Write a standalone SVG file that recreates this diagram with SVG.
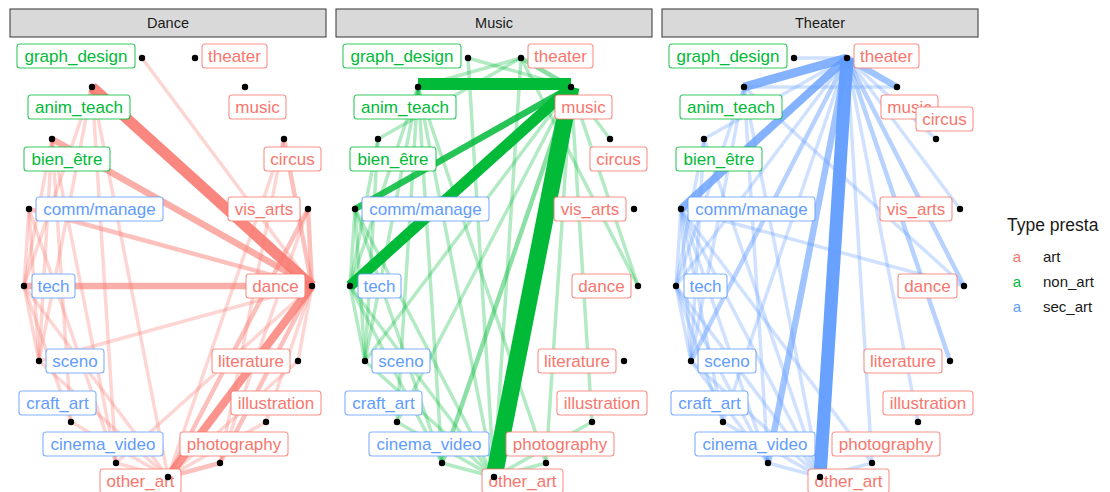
<svg xmlns="http://www.w3.org/2000/svg" width="1110" height="492" viewBox="0 0 1110 492">
<style>
text{font-family:"Liberation Sans",Arial,sans-serif}
.strip rect{fill:#D9D9D9;stroke:#333;stroke-width:1}
.strip text{font-size:14.5px;fill:#1A1A1A;text-anchor:middle}
.ed line{stroke-linecap:butt;fill:none}
.de line{stroke:#F8766D}.me line{stroke:#00BA38}.te line{stroke:#619CFF}
.w1{stroke-width:3.5;stroke-opacity:.3}
.w2{stroke-width:4.5;stroke-opacity:.45}
.w3{stroke-width:6.5;stroke-opacity:.6}
.w4{stroke-width:8;stroke-opacity:.78}
.w5{stroke-width:11;stroke-opacity:.88}
.w6{stroke-width:14;stroke-opacity:1}
.node rect{fill:#fff;stroke-width:1.1}
.node text{font-size:17px;text-anchor:middle}
.node circle{fill:#000}
.art rect{stroke:#F8766D;stroke-opacity:.8}.art text{fill:#F8766D}
.non_art rect{stroke:#00BA38;stroke-opacity:.8}.non_art text{fill:#00BA38}
.sec_art rect{stroke:#619CFF;stroke-opacity:.8}.sec_art text{fill:#619CFF}
.leg{font-size:15px;fill:#1A1A1A}
</style>
<rect width="1110" height="492" fill="#fff"/>
<g id="strips">
<g class="strip" id="strip-dance"><rect x="10" y="9" width="316" height="28"/><text x="168" y="28">Dance</text></g>
<g class="strip" id="strip-music"><rect x="336" y="9" width="316" height="28"/><text x="494" y="28">Music</text></g>
<g class="strip" id="strip-theater"><rect x="662" y="9" width="316" height="28"/><text x="820" y="28">Theater</text></g>
</g>
<g id="connectors">
<g class="ed de" id="edges-dance">
<line class="w1" x1="142" y1="58" x2="312" y2="286"/>
<line class="w1" x1="92" y1="87" x2="24" y2="286"/>
<line class="w1" x1="92" y1="87" x2="39" y2="361"/>
<line class="w1" x1="92" y1="87" x2="168" y2="477"/>
<line class="w1" x1="92" y1="87" x2="116" y2="463"/>
<line class="w1" x1="52" y1="139" x2="24" y2="286"/>
<line class="w1" x1="52" y1="139" x2="39" y2="361"/>
<line class="w1" x1="52" y1="139" x2="71" y2="422"/>
<line class="w1" x1="52" y1="139" x2="116" y2="463"/>
<line class="w1" x1="29" y1="209" x2="24" y2="286"/>
<line class="w1" x1="29" y1="209" x2="39" y2="361"/>
<line class="w1" x1="29" y1="209" x2="116" y2="463"/>
<line class="w1" x1="24" y1="286" x2="39" y2="361"/>
<line class="w1" x1="24" y1="286" x2="71" y2="422"/>
<line class="w1" x1="24" y1="286" x2="168" y2="477"/>
<line class="w1" x1="39" y1="361" x2="168" y2="477"/>
<line class="w1" x1="71" y1="422" x2="168" y2="477"/>
<line class="w1" x1="284" y1="139" x2="220" y2="463"/>
<line class="w1" x1="284" y1="139" x2="168" y2="477"/>
<line class="w1" x1="308" y1="209" x2="220" y2="463"/>
<line class="w1" x1="298" y1="361" x2="168" y2="477"/>
<line class="w1" x1="266" y1="422" x2="168" y2="477"/>
<line class="w1" x1="116" y1="463" x2="312" y2="286"/>
<line class="w1" x1="39" y1="361" x2="312" y2="286"/>
<line class="w1" x1="298" y1="361" x2="312" y2="286"/>
<line class="w1" x1="266" y1="422" x2="312" y2="286"/>
<line class="w1" x1="116" y1="463" x2="168" y2="477"/>
<line class="w2" x1="29" y1="209" x2="312" y2="286"/>
<line class="w2" x1="308" y1="209" x2="312" y2="286"/>
<line class="w2" x1="284" y1="139" x2="312" y2="286"/>
<line class="w2" x1="220" y1="463" x2="168" y2="477"/>
<line class="w2" x1="220" y1="463" x2="312" y2="286"/>
<line class="w2" x1="308" y1="209" x2="168" y2="477"/>
<line class="w3" x1="52" y1="139" x2="312" y2="286"/>
<line class="w3" x1="24" y1="286" x2="312" y2="286"/>
<line class="w4" x1="312" y1="286" x2="168" y2="477"/>
<line class="w5" x1="92" y1="87" x2="312" y2="286"/>
</g>
<g class="ed me" id="edges-music" transform="translate(326,0)">
<line class="w1" x1="142" y1="58" x2="245" y2="87"/>
<line class="w1" x1="195" y1="58" x2="92" y2="87"/>
<line class="w1" x1="195" y1="58" x2="52" y2="139"/>
<line class="w1" x1="92" y1="87" x2="24" y2="286"/>
<line class="w1" x1="92" y1="87" x2="39" y2="361"/>
<line class="w1" x1="92" y1="87" x2="71" y2="422"/>
<line class="w1" x1="92" y1="87" x2="116" y2="463"/>
<line class="w1" x1="92" y1="87" x2="168" y2="477"/>
<line class="w1" x1="92" y1="87" x2="220" y2="463"/>
<line class="w1" x1="52" y1="139" x2="24" y2="286"/>
<line class="w1" x1="52" y1="139" x2="39" y2="361"/>
<line class="w1" x1="29" y1="209" x2="24" y2="286"/>
<line class="w1" x1="29" y1="209" x2="39" y2="361"/>
<line class="w1" x1="29" y1="209" x2="116" y2="463"/>
<line class="w1" x1="29" y1="209" x2="168" y2="477"/>
<line class="w1" x1="24" y1="286" x2="39" y2="361"/>
<line class="w1" x1="24" y1="286" x2="116" y2="463"/>
<line class="w1" x1="24" y1="286" x2="168" y2="477"/>
<line class="w1" x1="39" y1="361" x2="168" y2="477"/>
<line class="w1" x1="71" y1="422" x2="168" y2="477"/>
<line class="w1" x1="116" y1="463" x2="168" y2="477"/>
<line class="w1" x1="220" y1="463" x2="168" y2="477"/>
<line class="w1" x1="266" y1="422" x2="168" y2="477"/>
<line class="w1" x1="245" y1="87" x2="39" y2="361"/>
<line class="w1" x1="245" y1="87" x2="71" y2="422"/>
<line class="w1" x1="245" y1="87" x2="220" y2="463"/>
<line class="w1" x1="245" y1="87" x2="266" y2="422"/>
<line class="w1" x1="245" y1="87" x2="312" y2="286"/>
<line class="w1" x1="245" y1="87" x2="284" y2="139"/>
<line class="w1" x1="195" y1="58" x2="312" y2="286"/>
<line class="w1" x1="142" y1="58" x2="168" y2="477"/>
<line class="w1" x1="195" y1="58" x2="168" y2="477"/>
<line class="w2" x1="195" y1="58" x2="245" y2="87"/>
<line class="w2" x1="245" y1="87" x2="116" y2="463"/>
<line class="w3" x1="245" y1="87" x2="29" y2="209" style="stroke-opacity:.85"/>
<line class="w5" x1="245" y1="87" x2="24" y2="286" style="stroke-opacity:1"/>
<line class="w6" x1="92" y1="84" x2="245" y2="84" style="stroke-width:12"/>
<line class="w6" x1="245" y1="87" x2="168" y2="477" style="stroke-width:17"/>
</g>
<g class="ed te" id="edges-theater" transform="translate(652,0)">
<line class="w1" x1="195" y1="58" x2="142" y2="58"/>
<line class="w1" x1="92" y1="87" x2="245" y2="87"/>
<line class="w1" x1="195" y1="58" x2="52" y2="139"/>
<line class="w1" x1="195" y1="58" x2="24" y2="286"/>
<line class="w1" x1="195" y1="58" x2="71" y2="422"/>
<line class="w1" x1="195" y1="58" x2="220" y2="463"/>
<line class="w1" x1="195" y1="58" x2="266" y2="422"/>
<line class="w1" x1="195" y1="58" x2="308" y2="209"/>
<line class="w1" x1="195" y1="58" x2="284" y2="139"/>
<line class="w1" x1="29" y1="209" x2="24" y2="286"/>
<line class="w1" x1="29" y1="209" x2="39" y2="361"/>
<line class="w1" x1="29" y1="209" x2="71" y2="422"/>
<line class="w1" x1="29" y1="209" x2="116" y2="463"/>
<line class="w1" x1="29" y1="209" x2="168" y2="477"/>
<line class="w1" x1="29" y1="209" x2="312" y2="286"/>
<line class="w1" x1="29" y1="209" x2="220" y2="463"/>
<line class="w1" x1="92" y1="87" x2="24" y2="286"/>
<line class="w1" x1="92" y1="87" x2="39" y2="361"/>
<line class="w1" x1="92" y1="87" x2="116" y2="463"/>
<line class="w1" x1="92" y1="87" x2="168" y2="477"/>
<line class="w1" x1="92" y1="87" x2="312" y2="286"/>
<line class="w1" x1="52" y1="139" x2="24" y2="286"/>
<line class="w1" x1="52" y1="139" x2="39" y2="361"/>
<line class="w1" x1="52" y1="139" x2="168" y2="477"/>
<line class="w1" x1="24" y1="286" x2="39" y2="361"/>
<line class="w1" x1="24" y1="286" x2="116" y2="463"/>
<line class="w1" x1="24" y1="286" x2="168" y2="477"/>
<line class="w1" x1="24" y1="286" x2="71" y2="422"/>
<line class="w1" x1="39" y1="361" x2="168" y2="477"/>
<line class="w1" x1="39" y1="361" x2="116" y2="463"/>
<line class="w1" x1="71" y1="422" x2="168" y2="477"/>
<line class="w1" x1="116" y1="463" x2="168" y2="477"/>
<line class="w1" x1="220" y1="463" x2="168" y2="477"/>
<line class="w2" x1="195" y1="58" x2="312" y2="286"/>
<line class="w2" x1="195" y1="58" x2="298" y2="361"/>
<line class="w2" x1="195" y1="58" x2="39" y2="361"/>
<line class="w3" x1="195" y1="58" x2="116" y2="463"/>
<line class="w3" x1="195" y1="58" x2="245" y2="87"/>
<line class="w4" x1="195" y1="58" x2="29" y2="209"/>
<line class="w4" x1="195" y1="58" x2="92" y2="87" style="stroke-width:9"/>
<line class="w6" x1="195" y1="58" x2="168" y2="477" style="stroke-width:13;stroke-opacity:.95"/>
</g>
</g>
<g id="nodes-dance">
<g id="dance-graph_design" class="node non_art"><rect x="17" y="44" width="118" height="24" rx="3"/><text x="76" y="62">graph_design</text><circle cx="142" cy="58" r="3.2"/></g>
<g id="dance-theater" class="node art"><rect x="202" y="44" width="65" height="24" rx="3"/><text x="234.5" y="62">theater</text><circle cx="195" cy="58" r="3.2"/></g>
<g id="dance-anim_teach" class="node non_art"><rect x="28" y="95" width="102" height="24" rx="3"/><text x="79" y="113">anim_teach</text><circle cx="92" cy="87" r="3.2"/></g>
<g id="dance-music" class="node art"><rect x="229" y="95" width="57" height="24" rx="3"/><text x="257.5" y="113">music</text><circle cx="245" cy="87" r="3.2"/></g>
<g id="dance-bien_etre" class="node non_art"><rect x="24" y="147" width="86" height="24" rx="3"/><text x="67" y="165">bien_être</text><circle cx="52" cy="139" r="3.2"/></g>
<g id="dance-circus" class="node art"><rect x="264" y="147" width="57" height="24" rx="3"/><text x="292.5" y="165">circus</text><circle cx="284" cy="139" r="3.2"/></g>
<g id="dance-comm_manage" class="node sec_art"><rect x="36" y="197" width="127" height="24" rx="3"/><text x="99.5" y="215">comm/manage</text><circle cx="29" cy="209" r="3.2"/></g>
<g id="dance-vis_arts" class="node art"><rect x="228" y="197" width="72" height="24" rx="3"/><text x="264" y="215">vis_arts</text><circle cx="308" cy="209" r="3.2"/></g>
<g id="dance-tech" class="node sec_art"><rect x="32" y="274" width="43" height="24" rx="3"/><text x="53.5" y="292">tech</text><circle cx="24" cy="286" r="3.2"/></g>
<g id="dance-dance" class="node art"><rect x="246" y="274" width="59" height="24" rx="3"/><text x="275.5" y="292">dance</text><circle cx="312" cy="286" r="3.2"/></g>
<g id="dance-sceno" class="node sec_art"><rect x="46" y="349" width="58" height="24" rx="3"/><text x="75" y="367">sceno</text><circle cx="39" cy="361" r="3.2"/></g>
<g id="dance-literature" class="node art"><rect x="212" y="349" width="78" height="24" rx="3"/><text x="251" y="367">literature</text><circle cx="298" cy="361" r="3.2"/></g>
<g id="dance-craft_art" class="node sec_art"><rect x="19" y="391" width="77" height="24" rx="3"/><text x="57.5" y="409">craft_art</text><circle cx="71" cy="422" r="3.2"/></g>
<g id="dance-illustration" class="node art"><rect x="231" y="391" width="90" height="24" rx="3"/><text x="276" y="409">illustration</text><circle cx="266" cy="422" r="3.2"/></g>
<g id="dance-cinema_video" class="node sec_art"><rect x="43" y="432" width="120" height="24" rx="3"/><text x="103" y="450">cinema_video</text><circle cx="116" cy="463" r="3.2"/></g>
<g id="dance-photography" class="node art"><rect x="180" y="432" width="108" height="24" rx="3"/><text x="234" y="450">photography</text><circle cx="220" cy="463" r="3.2"/></g>
<g id="dance-other_art" class="node art"><rect x="100" y="469" width="81" height="24" rx="3"/><text x="140.5" y="487">other_art</text><circle cx="168" cy="477" r="3.2"/></g>
</g>
<g id="nodes-music" transform="translate(326,0)">
<g id="music-graph_design" class="node non_art"><rect x="17" y="44" width="118" height="24" rx="3"/><text x="76" y="62">graph_design</text><circle cx="142" cy="58" r="3.2"/></g>
<g id="music-theater" class="node art"><rect x="202" y="44" width="65" height="24" rx="3"/><text x="234.5" y="62">theater</text><circle cx="195" cy="58" r="3.2"/></g>
<g id="music-anim_teach" class="node non_art"><rect x="28" y="95" width="102" height="24" rx="3"/><text x="79" y="113">anim_teach</text><circle cx="92" cy="87" r="3.2"/></g>
<g id="music-music" class="node art"><rect x="229" y="95" width="57" height="24" rx="3"/><text x="257.5" y="113">music</text><circle cx="245" cy="87" r="3.2"/></g>
<g id="music-bien_etre" class="node non_art"><rect x="24" y="147" width="86" height="24" rx="3"/><text x="67" y="165">bien_être</text><circle cx="52" cy="139" r="3.2"/></g>
<g id="music-circus" class="node art"><rect x="264" y="147" width="57" height="24" rx="3"/><text x="292.5" y="165">circus</text><circle cx="284" cy="139" r="3.2"/></g>
<g id="music-comm_manage" class="node sec_art"><rect x="36" y="197" width="127" height="24" rx="3"/><text x="99.5" y="215">comm/manage</text><circle cx="29" cy="209" r="3.2"/></g>
<g id="music-vis_arts" class="node art"><rect x="228" y="197" width="72" height="24" rx="3"/><text x="264" y="215">vis_arts</text><circle cx="308" cy="209" r="3.2"/></g>
<g id="music-tech" class="node sec_art"><rect x="32" y="274" width="43" height="24" rx="3"/><text x="53.5" y="292">tech</text><circle cx="24" cy="286" r="3.2"/></g>
<g id="music-dance" class="node art"><rect x="246" y="274" width="59" height="24" rx="3"/><text x="275.5" y="292">dance</text><circle cx="312" cy="286" r="3.2"/></g>
<g id="music-sceno" class="node sec_art"><rect x="46" y="349" width="58" height="24" rx="3"/><text x="75" y="367">sceno</text><circle cx="39" cy="361" r="3.2"/></g>
<g id="music-literature" class="node art"><rect x="212" y="349" width="78" height="24" rx="3"/><text x="251" y="367">literature</text><circle cx="298" cy="361" r="3.2"/></g>
<g id="music-craft_art" class="node sec_art"><rect x="19" y="391" width="77" height="24" rx="3"/><text x="57.5" y="409">craft_art</text><circle cx="71" cy="422" r="3.2"/></g>
<g id="music-illustration" class="node art"><rect x="231" y="391" width="90" height="24" rx="3"/><text x="276" y="409">illustration</text><circle cx="266" cy="422" r="3.2"/></g>
<g id="music-cinema_video" class="node sec_art"><rect x="43" y="432" width="120" height="24" rx="3"/><text x="103" y="450">cinema_video</text><circle cx="116" cy="463" r="3.2"/></g>
<g id="music-photography" class="node art"><rect x="180" y="432" width="108" height="24" rx="3"/><text x="234" y="450">photography</text><circle cx="220" cy="463" r="3.2"/></g>
<g id="music-other_art" class="node art"><rect x="156" y="469" width="81" height="24" rx="3"/><text x="196.5" y="487">other_art</text><circle cx="168" cy="477" r="3.2"/></g>
</g>
<g id="nodes-theater" transform="translate(652,0)">
<g id="theater-graph_design" class="node non_art"><rect x="17" y="44" width="118" height="24" rx="3"/><text x="76" y="62">graph_design</text><circle cx="142" cy="58" r="3.2"/></g>
<g id="theater-theater" class="node art"><rect x="202" y="44" width="65" height="24" rx="3"/><text x="234.5" y="62">theater</text><circle cx="195" cy="58" r="3.2"/></g>
<g id="theater-anim_teach" class="node non_art"><rect x="28" y="95" width="102" height="24" rx="3"/><text x="79" y="113">anim_teach</text><circle cx="92" cy="87" r="3.2"/></g>
<g id="theater-music" class="node art"><rect x="229" y="95" width="57" height="24" rx="3"/><text x="257.5" y="113">music</text><circle cx="245" cy="87" r="3.2"/></g>
<g id="theater-bien_etre" class="node non_art"><rect x="24" y="147" width="86" height="24" rx="3"/><text x="67" y="165">bien_être</text><circle cx="52" cy="139" r="3.2"/></g>
<g id="theater-circus" class="node art"><rect x="264" y="107" width="57" height="24" rx="3"/><text x="292.5" y="125">circus</text><circle cx="284" cy="139" r="3.2"/></g>
<g id="theater-comm_manage" class="node sec_art"><rect x="36" y="197" width="127" height="24" rx="3"/><text x="99.5" y="215">comm/manage</text><circle cx="29" cy="209" r="3.2"/></g>
<g id="theater-vis_arts" class="node art"><rect x="228" y="197" width="72" height="24" rx="3"/><text x="264" y="215">vis_arts</text><circle cx="308" cy="209" r="3.2"/></g>
<g id="theater-tech" class="node sec_art"><rect x="32" y="274" width="43" height="24" rx="3"/><text x="53.5" y="292">tech</text><circle cx="24" cy="286" r="3.2"/></g>
<g id="theater-dance" class="node art"><rect x="246" y="274" width="59" height="24" rx="3"/><text x="275.5" y="292">dance</text><circle cx="312" cy="286" r="3.2"/></g>
<g id="theater-sceno" class="node sec_art"><rect x="46" y="349" width="58" height="24" rx="3"/><text x="75" y="367">sceno</text><circle cx="39" cy="361" r="3.2"/></g>
<g id="theater-literature" class="node art"><rect x="212" y="349" width="78" height="24" rx="3"/><text x="251" y="367">literature</text><circle cx="298" cy="361" r="3.2"/></g>
<g id="theater-craft_art" class="node sec_art"><rect x="19" y="391" width="77" height="24" rx="3"/><text x="57.5" y="409">craft_art</text><circle cx="71" cy="422" r="3.2"/></g>
<g id="theater-illustration" class="node art"><rect x="231" y="391" width="90" height="24" rx="3"/><text x="276" y="409">illustration</text><circle cx="266" cy="422" r="3.2"/></g>
<g id="theater-cinema_video" class="node sec_art"><rect x="43" y="432" width="120" height="24" rx="3"/><text x="103" y="450">cinema_video</text><circle cx="116" cy="463" r="3.2"/></g>
<g id="theater-photography" class="node art"><rect x="180" y="432" width="108" height="24" rx="3"/><text x="234" y="450">photography</text><circle cx="220" cy="463" r="3.2"/></g>
<g id="theater-other_art" class="node art"><rect x="156" y="469" width="81" height="24" rx="3"/><text x="196.5" y="487">other_art</text><circle cx="168" cy="477" r="3.2"/></g>
</g>
<g id="legend">
<text x="1007" y="231" style="font-size:17.5px;fill:#1A1A1A">Type presta</text>
<text x="1017" y="262" style="font-size:15px;fill:#F8766D;text-anchor:middle">a</text>
<text x="1043" y="262" class="leg">art</text>
<text x="1017" y="287" style="font-size:15px;fill:#00BA38;text-anchor:middle">a</text>
<text x="1043" y="287" class="leg">non_art</text>
<text x="1017" y="312" style="font-size:15px;fill:#619CFF;text-anchor:middle">a</text>
<text x="1043" y="312" class="leg">sec_art</text>
</g>
</svg>
